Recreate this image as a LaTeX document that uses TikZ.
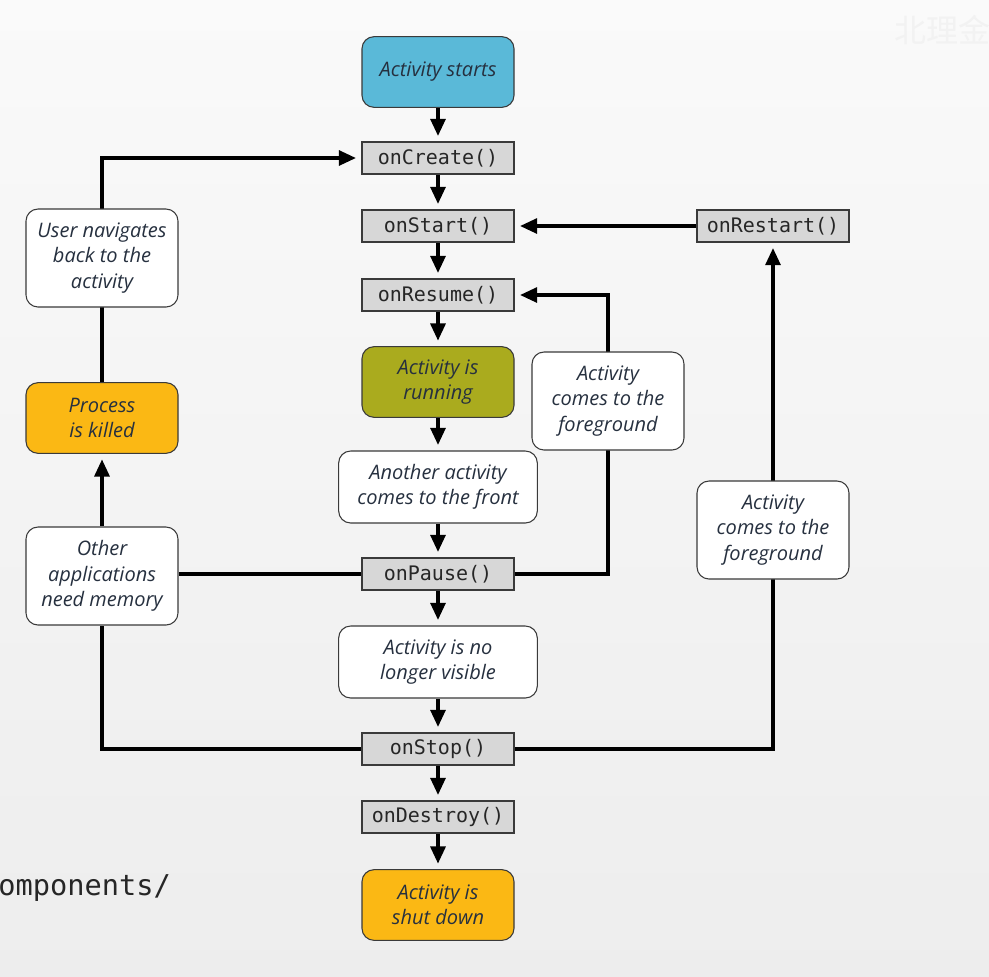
\documentclass[tikz,border=0pt]{standalone}
\usepackage{fontspec}
\usetikzlibrary{arrows.meta}
\newfontfamily\labfont{Open Sans}
\newfontfamily\codefont{DejaVu Sans Mono}
\newfontfamily\cjkfont{Noto Sans CJK SC}
\definecolor{startblue}{HTML}{5AB9D8}
\definecolor{runolive}{HTML}{AAAB1E}
\definecolor{endorange}{HTML}{FBB814}
\definecolor{methgray}{HTML}{D7D7D7}
\definecolor{boxline}{HTML}{3A3A3A}
\definecolor{labtext}{HTML}{26303F}
\pgfdeclarelayer{back}
\pgfdeclarelayer{wires}
\pgfsetlayers{back,wires,main}
\tikzset{
  method/.style={draw=boxline, fill=methgray, line width=0.8pt,
    minimum width=114pt, minimum height=24pt, inner sep=0pt,
    font=\codefont\fontsize{15pt}{18pt}\selectfont, text=black!85},
  state/.style={draw=boxline, line width=0.8pt, rounded corners=9pt,
    minimum width=114pt, minimum height=53pt, inner sep=0pt, align=center,
    font=\labfont\itshape\fontsize{15pt}{19pt}\selectfont, text=labtext},
  note/.style={state, fill=white},
  flow/.style={line width=3pt, shorten >=4pt, -{Triangle[length=13pt,width=11pt]}},
  link/.style={line width=3pt}
}
\begin{document}
\begin{tikzpicture}[x=0.75pt,y=-0.75pt]
\useasboundingbox (0,0) rectangle (989,976);
\begin{pgfonlayer}{back}
  \shade[top color=black!2, bottom color=black!7] (0,0) rectangle (989,976);
\end{pgfonlayer}
\node[anchor=west, text=black!5, font=\cjkfont\fontsize{24pt}{24pt}\selectfont] (mark) at (890,30) {北理金};
\node[anchor=base west, text=black!85, font=\codefont\fontsize{21.5pt}{24pt}\selectfont, inner sep=0pt] (path) at (-2,895) {omponents/};

% main column
\node[state, fill=startblue] (start) at (438,72) {Activity starts};
\node[method] (create) at (438,158) {onCreate()};
\node[method] (startm) at (438,226) {onStart()};
\node[method] (resume) at (438,295) {onResume()};
\node[state, fill=runolive] (running) at (438,382) {Activity is\\running};
\node[note, minimum width=149pt, minimum height=54pt] (front) at (438,487) {Another activity\\comes to the front};
\node[method] (pause) at (438,574) {onPause()};
\node[note, minimum width=149pt, minimum height=54pt] (hidden) at (438,662) {Activity is no\\longer visible};
\node[method] (stop) at (438,749) {onStop()};
\node[method] (destroy) at (438,817) {onDestroy()};
\node[state, fill=endorange] (shut) at (438,905) {Activity is\\shut down};

% right side
\node[method] (restart) at (773,226) {onRestart()};
\node[note, minimum height=73.5pt] (fgA) at (608,401) {Activity\\comes to the\\foreground};
\node[note, minimum height=73.5pt] (fgB) at (773,530) {Activity\\comes to the\\foreground};

% left side
\node[note, minimum height=73.5pt] (back) at (102,258) {User navigates\\back to the\\activity};
\node[state, fill=endorange] (killed) at (102,418) {Process\\is killed};
\node[note, minimum height=73.5pt] (memory) at (102,576) {Other\\applications\\need memory};

\begin{pgfonlayer}{wires}
  \draw[flow] (start) -- (create);
  \draw[flow] (create) -- (startm);
  \draw[flow] (startm) -- (resume);
  \draw[flow] (resume) -- (running);
  \draw[flow] (running) -- (front);
  \draw[flow] (front) -- (pause);
  \draw[flow] (pause) -- (hidden);
  \draw[flow] (hidden) -- (stop);
  \draw[flow] (stop) -- (destroy);
  \draw[flow] (destroy) -- (shut);
  \draw[flow] (restart.west) -- (startm.east);
  \draw[flow] (stop.east) -| (restart.south);
  \draw[flow] (pause.east) -| (fgA.center) |- (resume.east);
  \draw[link] (pause.west) -- (pause.west -| memory.east);
  \draw[link] (stop.west) -| (memory.south);
  \draw[flow] (memory.north) -- (killed.south);
  \draw[flow] (killed.north) |- (create.west);
\end{pgfonlayer}
\end{tikzpicture}
\end{document}
